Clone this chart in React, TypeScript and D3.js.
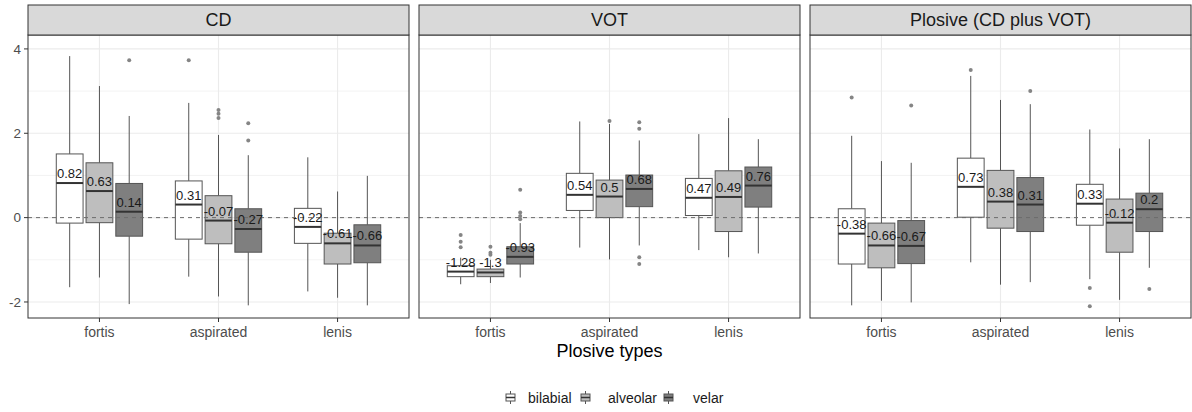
import React, { useEffect } from 'react';
import * as d3 from 'd3';

// plosive categories on x, place of articulation as dodged fill
const categories = ['fortis', 'aspirated', 'lenis'];
const places = ['bilabial', 'alveolar', 'velar'];
const facets = ['CD', 'VOT', 'Plosive (CD plus VOT)'];
const placeFill = ['#ffffff', '#bebebe', '#7f7f7f'];

// order of each array: fortis(b,a,v), aspirated(b,a,v), lenis(b,a,v)
const cdMedian = [0.82, 0.63, 0.14, 0.31, -0.07, -0.27, -0.22, -0.61, -0.66];
const cdQ1 = [-0.13, -0.12, -0.44, -0.51, -0.62, -0.82, -0.61, -1.1, -1.07];
const cdQ3 = [1.51, 1.3, 0.81, 0.87, 0.52, 0.21, 0.22, -0.37, -0.17];
const cdLow = [-1.65, -1.42, -2.05, -1.4, -1.87, -2.08, -1.75, -1.9, -2.08];
const cdHigh = [3.83, 3.12, 2.41, 2.72, 1.96, 1.48, 1.43, 0.62, 0.99];
const cdOutliers = [[], [], [3.73], [3.73], [2.55, 2.46, 2.36], [2.24, 1.83], [], [], []];

const votMedian = [-1.28, -1.3, -0.93, 0.54, 0.5, 0.68, 0.47, 0.49, 0.76];
const votQ1 = [-1.4, -1.4, -1.1, 0.17, 0.0, 0.26, 0.05, -0.33, 0.25];
const votQ3 = [-1.14, -1.22, -0.69, 1.05, 0.89, 1.01, 0.93, 1.11, 1.2];
const votLow = [-1.58, -1.55, -1.42, -0.71, -0.99, -0.66, -0.77, -0.94, -0.85];
const votHigh = [-0.95, -1.0, -0.13, 2.28, 2.22, 1.83, 1.98, 2.36, 1.86];
const votOutliers = [[-0.41, -0.57, -0.7], [-0.69, -0.83, -0.88], [0.66, 0.12, 0.04, -0.04], [], [2.29], [2.26, 2.11, -0.94, -1.1], [], [], []];

const plMedian = [-0.38, -0.66, -0.67, 0.73, 0.38, 0.31, 0.33, -0.12, 0.2];
const plQ1 = [-1.1, -1.19, -1.09, 0.01, -0.25, -0.33, -0.18, -0.82, -0.33];
const plQ3 = [0.21, -0.13, -0.07, 1.41, 1.12, 0.95, 0.79, 0.44, 0.58];
const plLow = [-2.08, -1.97, -2.01, -1.06, -1.59, -1.53, -1.46, -1.95, -1.19];
const plHigh = [1.94, 1.34, 1.3, 3.36, 2.79, 2.69, 2.09, 1.64, 1.86];
const plOutliers = [[2.85], [], [2.66], [3.5], [], [3.0], [-1.67, -2.1], [], [-1.69]];

const yTicks = [-2, 0, 2, 4];
const yMinor = [-1, 1, 3];

const W = 1192, H = 412;
const plotL = 28, plotR = 1191, stripTop = 5, stripH = 30, panelBottom = 318;
const FONT = '"Liberation Sans", Arial, Helvetica, sans-serif';

function buildRows(med, q1, q3, lo, hi, out) {
  return med.map((m, i) => ({
    cat: categories[Math.floor(i / 3)], place: places[i % 3], pi: i % 3,
    median: m, q1: q1[i], q3: q3[i], lo: lo[i], hi: hi[i], out: out[i],
  }));
}

const panelData = [
  buildRows(cdMedian, cdQ1, cdQ3, cdLow, cdHigh, cdOutliers),
  buildRows(votMedian, votQ1, votQ3, votLow, votHigh, votOutliers),
  buildRows(plMedian, plQ1, plQ3, plLow, plHigh, plOutliers),
];

export default function App() {
  useEffect(() => { document.body.style.margin = '0'; }, []);

  const panelTop = stripTop + stripH;
  const fx = d3.scaleBand().domain(facets).range([plotL, plotR]).paddingInner(10 / 391);
  const y = d3.scaleLinear().domain([-2.38, 4.33]).range([panelBottom, panelTop]);

  const legendKeys = [506, 581, 664];
  const legendText = [528, 608, 693];

  return (
    <svg width={W} height={H} style={{ display: 'block', fontFamily: FONT }}>
      <rect width={W} height={H} fill="#fff" />
      {yTicks.map(t => (
        <g key={t}>
          <text x={21} y={y(t)} dy="0.35em" textAnchor="end" fontSize={13.5} fill="#4d4d4d">{t}</text>
          <line x1={24} x2={plotL} y1={y(t)} y2={y(t)} stroke="#333" />
        </g>
      ))}
      {facets.map((f, fi) => {
        const x0 = fx(f)!;
        const bw = fx.bandwidth();
        const x = d3.scalePoint().domain(categories).range([x0, x0 + bw]).padding(0.6);
        const step = x.step();
        const dodge = d3.scaleBand().domain(places).range([-step * 0.375, step * 0.375]);
        const boxW = dodge.bandwidth() * 0.9;
        const rows = panelData[fi].map(d => ({ ...d, cx: x(d.cat)! + dodge(d.place)! + dodge.bandwidth() / 2 }));
        return (
          <g key={f}>
            <rect x={x0} y={panelTop} width={bw} height={panelBottom - panelTop} fill="#fff" />
            {yMinor.map(t => (
              <line key={'mi' + t} x1={x0} x2={x0 + bw} y1={y(t)} y2={y(t)} stroke="#ebebeb" strokeWidth={0.6} />
            ))}
            {yTicks.map(t => (
              <line key={'ma' + t} x1={x0} x2={x0 + bw} y1={y(t)} y2={y(t)} stroke="#ebebeb" strokeWidth={1.1} />
            ))}
            {categories.map(c => (
              <line key={'v' + c} x1={x(c)} x2={x(c)} y1={panelTop} y2={panelBottom} stroke="#ebebeb" strokeWidth={1.1} />
            ))}
            {rows.map((d, i) => (
              <g key={i}>
                <line x1={d.cx} x2={d.cx} y1={y(d.hi)} y2={y(d.q3)} stroke="#555" />
                <line x1={d.cx} x2={d.cx} y1={y(d.q1)} y2={y(d.lo)} stroke="#555" />
                <rect x={d.cx - boxW / 2} y={y(d.q3)} width={boxW} height={y(d.q1) - y(d.q3)}
                  fill={placeFill[d.pi]} stroke="#555" />
                <line x1={d.cx - boxW / 2} x2={d.cx + boxW / 2} y1={y(d.median)} y2={y(d.median)} stroke="#333" strokeWidth={2} />
                {d.out.map((o, k) => (
                  <circle key={k} cx={d.cx} cy={y(o)} r={2} fill="#858585" />
                ))}
              </g>
            ))}
            <line x1={x0} x2={x0 + bw} y1={y(0)} y2={y(0)} stroke="#6b6b6b" strokeDasharray="4,4" />
            {rows.map((d, i) => (
              <text key={'l' + i} x={d.cx} y={y(d.median) - 5} textAnchor="middle" fontSize={13} fill="#1a1a1a">{String(d.median)}</text>
            ))}
            <rect x={x0} y={panelTop} width={bw} height={panelBottom - panelTop} fill="none" stroke="#333" />
            <rect x={x0} y={stripTop} width={bw} height={stripH} fill="#d9d9d9" stroke="#333" />
            <text x={x0 + bw / 2} y={stripTop + stripH / 2} dy="0.36em" textAnchor="middle" fontSize={18} fill="#1a1a1a">{f}</text>
            {categories.map(c => (
              <g key={'t' + c}>
                <line x1={x(c)} x2={x(c)} y1={panelBottom} y2={panelBottom + 4} stroke="#333" />
                <text x={x(c)} y={337} textAnchor="middle" fontSize={14} fill="#4d4d4d">{c}</text>
              </g>
            ))}
          </g>
        );
      })}
      <text x={(plotL + plotR) / 2} y={357} textAnchor="middle" fontSize={18} fill="#000">Plosive types</text>
      {places.map((p, i) => (
        <g key={p}>
          <line x1={legendKeys[i] + 4.5} x2={legendKeys[i] + 4.5} y1={391} y2={404} stroke="#555" />
          <rect x={legendKeys[i]} y={394} width={9} height={7} fill={placeFill[i]} stroke="#555" />
          <line x1={legendKeys[i]} x2={legendKeys[i] + 9} y1={397.5} y2={397.5} stroke="#333" strokeWidth={1.5} />
          <text x={legendText[i]} y={397.5} dy="0.36em" fontSize={14} fill="#1a1a1a">{p}</text>
        </g>
      ))}
    </svg>
  );
}
